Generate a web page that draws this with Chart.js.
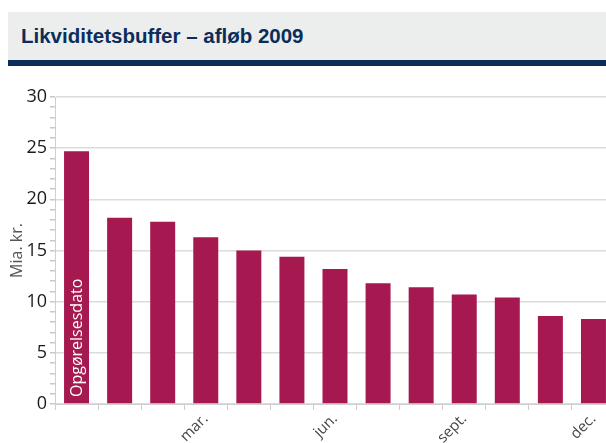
<!DOCTYPE html>
<html>
<head>
<meta charset="utf-8">
<script src="https://cdn.jsdelivr.net/npm/chart.js"></script>
<style>
  html, body { margin: 0; padding: 0; background: #fff; overflow: hidden; width: 606px; height: 443px; }
  .header {
    position: absolute; left: 8px; top: 12px; width: 598px; height: 48px;
    background: #eceeed; border-bottom: 6px solid #0b2d5b;
  }
  .header h1 {
    margin: 0; position: absolute; left: 13px; top: 12px;
    font: bold 20.5px "Liberation Sans", Arial, sans-serif; color: #0b2d5b;
  }
  .wrap { position: absolute; left: 0; top: 66px; width: 615px; height: 377px; }
</style>
</head>
<body>
<div class="header"><h1>Likviditetsbuffer – afløb 2009</h1></div>
<div class="wrap"><canvas id="chart" width="615" height="377"></canvas></div>
<script>
  // data
  var categories = ['Opgørelsesdato', 'jan.', 'feb.', 'mar.', 'apr.', 'maj', 'jun.', 'jul.', 'aug.', 'sept.', 'okt.', 'nov.', 'dec.'];
  var buffer = [24.7, 18.2, 17.8, 16.3, 15.0, 14.4, 13.2, 11.8, 11.4, 10.7, 10.4, 8.6, 8.3];
  var shownLabels = ['mar.', 'jun.', 'sept.', 'dec.'];

  // white label inside first bar
  var barLabel = {
    id: 'barLabel',
    afterDatasetsDraw: function(chart) {
      var c = chart.ctx;
      var x = chart.scales.x.getPixelForValue(0);
      var y = chart.scales.y.getPixelForValue(0);
      c.save();
      c.translate(x + 1, y - 7);
      c.rotate(-Math.PI / 2);
      c.fillStyle = '#ffffff';
      c.font = '16px "Open Sans", sans-serif';
      c.textAlign = 'left';
      c.textBaseline = 'middle';
      c.fillText(categories[0], 0, 0);
      c.restore();
    }
  };

  var ctx = document.getElementById('chart').getContext('2d');
  var chart = new Chart(ctx, {
    type: 'bar',
    data: {
      labels: categories,
      datasets: [{
        data: buffer,
        backgroundColor: '#a51850',
        borderWidth: 0,
        barPercentage: 0.58,
        categoryPercentage: 1
      }]
    },
    options: {
      responsive: false,
      animation: false,
      layout: { padding: { top: 31, left: 0, right: 0, bottom: 0 } },
      plugins: { legend: { display: false }, tooltip: { enabled: false } },
      scales: {
        x: {
          offset: true,
          afterFit: function(scale) { scale.height = 39; },
          border: { display: true, color: '#cfcfcf', width: 1 },
          grid: { drawOnChartArea: false, offset: true, tickLength: 6, color: '#cfcfcf', tickColor: '#cfcfcf' },
          ticks: {
            autoSkip: false, minRotation: 45, maxRotation: 45, padding: 0,
            color: '#444', font: { family: '"Open Sans", sans-serif', size: 15 },
            callback: function(v, i) {
              return shownLabels.indexOf(categories[i]) >= 0 ? categories[i] : '';
            }
          }
        },
        y: {
          min: 0, max: 30,
          afterFit: function(scale) { scale.width = 55; },
          border: { display: true, color: '#cfcfcf', width: 1 },
          grid: {
            tickLength: 5,
            color: function(c) { return c.tick && c.tick.value % 5 === 0 ? '#dcdcdc' : 'rgba(0,0,0,0)'; },
            tickColor: '#c8c8c8',
            lineWidth: 1.5
          },
          ticks: {
            stepSize: 1, autoSkip: false, padding: 3, color: '#1a1a1a',
            font: { family: '"Open Sans", sans-serif', size: 18 },
            callback: function(v) { return v % 5 === 0 ? v : ''; }
          },
          title: {
            display: true, text: 'Mia. kr.', color: '#555', padding: { top: 8, bottom: 0 },
            font: { family: '"Open Sans", sans-serif', size: 16 }
          }
        }
      }
    },
    plugins: [barLabel]
  });
</script>
</body>
</html>
